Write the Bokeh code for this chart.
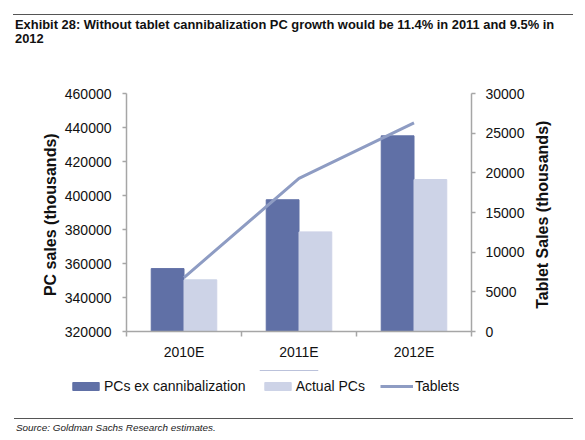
from bokeh.plotting import figure
from bokeh.models import (Range1d, LinearAxis, FixedTicker, BasicTickFormatter, Div,
                          ColumnDataSource, Label, Legend, LegendItem)
from bokeh.layouts import column, row
from bokeh.transform import dodge
from bokeh.embed import file_html
from bokeh.resources import INLINE

# dados
categorias = ["2010E", "2011E", "2012E"]
pcs_ex_canib = [357000, 397500, 435100]
pcs_reais = [350400, 378600, 409400]
tablets = [6800, 19300, 26300]
ticks_pc = [320000, 340000, 360000, 380000, 400000, 420000, 440000, 460000]
ticks_tab = [0, 5000, 10000, 15000, 20000, 25000, 30000]

titulo = "Exhibit 28: Without tablet cannibalization PC growth would be 11.4% in 2011 and 9.5% in<br>2012"
fonte = "Source: Goldman Sachs Research estimates."

cor_escura = "#6070A6"
cor_clara = "#CDD3E7"
cor_linha = "#8E9CC3"
cor_eixo = "#A6A6A6"
fonte_txt = "Liberation Sans"

centros = [i + 0.5 for i in range(len(categorias))]
limites = list(range(len(categorias) + 1))

source = ColumnDataSource(data=dict(x=centros, pcs_ex=pcs_ex_canib, reais=pcs_reais, tablets=tablets))

p = figure(x_range=Range1d(0, len(categorias)), y_range=Range1d(ticks_pc[0], ticks_pc[-1]),
           frame_width=345, frame_height=238,
           min_border_left=126, min_border_right=62, min_border_top=35, min_border_bottom=39,
           output_backend="svg", toolbar_location=None, tools="")
p.extra_y_ranges = {"tab": Range1d(ticks_tab[0], ticks_tab[-1])}

p.vbar(x=dodge("x", -0.1425), top="pcs_ex", width=0.285, source=source, color=cor_escura)
p.vbar(x=dodge("x", 0.1425), top="reais", width=0.285, source=source, color=cor_clara)
p.line(x="x", y="tablets", source=source, y_range_name="tab", line_color=cor_linha, line_width=3)

p.xgrid.grid_line_color = None
p.ygrid.grid_line_color = None
p.outline_line_color = None

# eixo x: rotulos no centro, tracos nas divisas
xax = p.xaxis[0]
xax.ticker = FixedTicker(ticks=centros, minor_ticks=limites)
xax.major_label_overrides = {c: cat for c, cat in zip(centros, categorias)}
xax.major_tick_line_color = None
xax.major_tick_in = 0
xax.major_tick_out = 0
xax.minor_tick_in = 0
xax.minor_tick_out = 5
xax.minor_tick_line_color = cor_eixo
xax.minor_tick_line_width = 1.5
xax.major_label_standoff = 7

# eixo y esquerdo
yax = p.yaxis[0]
yax.ticker = FixedTicker(ticks=ticks_pc)
yax.formatter = BasicTickFormatter(use_scientific=False)
yax.axis_label = "PC sales  (thousands)"
yax.axis_label_standoff = 3
yax.major_label_standoff = 11

# eixo y direito
ax2 = LinearAxis(y_range_name="tab", ticker=FixedTicker(ticks=ticks_tab),
                 formatter=BasicTickFormatter(use_scientific=False))
ax2.major_label_standoff = 10
p.add_layout(ax2, "right")

for ax in [xax, yax, ax2]:
    ax.axis_line_color = cor_eixo
    ax.axis_line_width = 1.5
    ax.major_label_text_font = fonte_txt
    ax.major_label_text_font_size = "14px"
    ax.major_label_text_color = "#111111"
    ax.axis_label_text_font = fonte_txt
    ax.axis_label_text_font_size = "16px"
    ax.axis_label_text_font_style = "bold"
    ax.axis_label_text_color = "#111111"
for ax in [yax, ax2]:
    ax.major_tick_line_color = cor_eixo
    ax.major_tick_line_width = 1.5
    ax.major_tick_in = 0
    ax.major_tick_out = 4
    ax.minor_tick_line_color = None


def painel(w, h, y_range=(0, 1)):
    f = figure(width=w, height=h, x_range=Range1d(0, 1), y_range=Range1d(*y_range),
               min_border=0, x_axis_location=None, y_axis_location=None,
               output_backend="svg", toolbar_location=None, tools="")
    f.grid.grid_line_color = None
    f.outline_line_color = None
    return f


# titulo do eixo direito (lido de baixo para cima); o quadro fica alinhado ao de p
p_rot = painel(44, 312)
p_rot.add_layout(Label(x=9, y=119, x_units="screen", y_units="screen",
                       text="Tablet Sales  (thousands)", angle=90, angle_units="deg",
                       text_align="center", text_baseline="middle",
                       text_font=fonte_txt, text_font_size="16px",
                       text_font_style="bold", text_color="#111111"))

# legenda: mesmos dados, mas fora da faixa visivel deste painel
p_leg = painel(577, 40, y_range=(-2, -1))
r1 = p_leg.vbar(x="x", top="pcs_ex", width=0.1, source=source, color=cor_escura)
r2 = p_leg.vbar(x="x", top="reais", width=0.1, source=source, color=cor_clara)
r3 = p_leg.line(x="x", y="tablets", source=source, line_color=cor_linha, line_width=3)
leg = Legend(items=[LegendItem(label="PCs ex cannibalization", renderers=[r1]),
                    LegendItem(label="Actual PCs", renderers=[r2]),
                    LegendItem(label="Tablets", renderers=[r3])],
             location=(69, 16), orientation="horizontal",
             background_fill_alpha=0, border_line_color=None, padding=0, margin=0,
             spacing=15, label_standoff=2, glyph_width=33, glyph_height=10,
             label_text_font=fonte_txt, label_text_font_size="14px", label_text_color="#111111")
p_leg.add_layout(leg)

topo = Div(text='<div style="padding:14px 0 0 0;"><div style="margin-left:13px; width:560px; '
                'border-top:1px solid #555; padding:3px 0 0 2px; font-family:\'Liberation Sans\'; '
                'font-weight:bold; font-size:12.9px; line-height:13.5px; color:#111;">'
                + titulo + '</div></div>',
           width=577, height=58, margin=0)
rodape = Div(text='<div style="padding:8px 0 0 0;"><div style="margin-left:14px; width:559px; '
                  'border-top:1px solid #555; padding:3px 0 0 2px; font-family:\'Liberation Sans\'; '
                  'font-style:italic; font-size:9.9px; line-height:11px; color:#222;">'
                  + fonte + '</div></div>',
             width=577, height=22, margin=0)

layout = column(topo, row(p, p_rot, spacing=0), p_leg, rodape, spacing=0)
open("out.html", "w").write(file_html(layout, INLINE))
